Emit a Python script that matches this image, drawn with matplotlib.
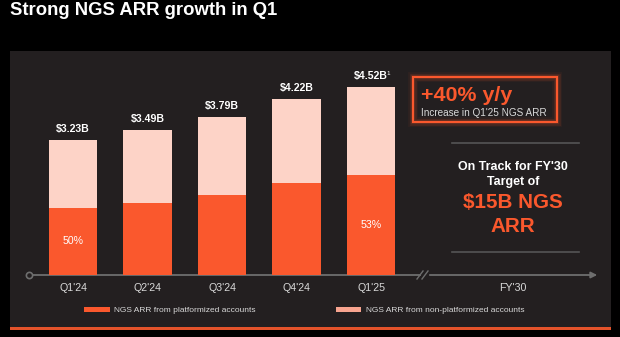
import matplotlib.pyplot as plt
from matplotlib.patches import Patch, Rectangle

plt.rcParams["font.family"] = ["Liberation Sans", "DejaVu Sans"]

quarters = ["Q1'24", "Q2'24", "Q3'24", "Q4'24", "Q1'25"]
total_arr = [3.23, 3.49, 3.79, 4.22, 4.52]          # $B
platformized_arr = [1.62, 1.73, 1.92, 2.21, 2.40]   # $B
footnotes = ["", "", "", "", "1"]
show_share = [True, False, False, False, True]
target_label = "FY'30"
target_arr = 15   # $B
yoy_growth = 40   # %

ORANGE = "#FA582D"
PINK = "#FDD3C7"
SALMON = "#F8A48F"
PANEL = "#231F20"
AXIS = "#6E6E6E"
LIGHT = "#D9D9D9"

W, H = 620, 337
fig = plt.figure(figsize=(W / 100, H / 100), dpi=100, facecolor="black")

# backdrop axes in pixel units, origin top-left
bg = fig.add_axes([0, 0, 1, 1])
bg.set_xlim(0, W)
bg.set_ylim(H, 0)
bg.axis("off")

bg.add_patch(Rectangle((10, 51), 601, 276, facecolor=PANEL, edgecolor="none"))
bg.add_patch(Rectangle((10, 327), 601, 3, facecolor="#E4532B", edgecolor="none"))
bg.text(10, 15, "Strong NGS ARR growth in Q1", color="white", fontsize=13.3,
        fontweight="bold", ha="left", va="baseline")

# timeline with break before the target year
base_y = 275
bg.plot([29, 421], [base_y, base_y], color=AXIS, lw=1.3, solid_capstyle="butt")
bg.annotate("", xy=(600, base_y), xytext=(427, base_y),
            arrowprops=dict(arrowstyle="-|>", color=AXIS, lw=1.3, mutation_scale=9))
bg.plot([417, 423], [279, 271], color=AXIS, lw=1.0)
bg.plot([422, 428], [279, 271], color=AXIS, lw=1.0)
bg.plot(29, base_y, "o", mfc=PANEL, mec=AXIS, ms=4.5, mew=1.2)

# growth callout box with soft glow
for lw, a in [(7, 0.06), (5, 0.10), (3.2, 0.16)]:
    bg.add_patch(Rectangle((413, 77), 144, 45, fill=False, edgecolor=ORANGE,
                           lw=lw, alpha=a))
bg.add_patch(Rectangle((413, 77), 144, 45, fill=False, edgecolor=ORANGE, lw=1.5))
bg.text(421, 101, f"+{yoy_growth}% y/y", color=ORANGE, fontsize=15.4,
        fontweight="bold", ha="left", va="baseline")
bg.text(421, 116, "Increase in Q1'25 NGS ARR", color=LIGHT, fontsize=7.2,
        ha="left", va="baseline")

# target panel
bg.plot([452, 579], [143, 143], color="#555555", lw=1.2)
bg.plot([452, 579], [252, 252], color="#555555", lw=1.2)
bg.text(513, 170, f"On Track for {target_label}", color="white", fontsize=8.9,
        fontweight="bold", ha="center", va="baseline")
bg.text(513, 185, "Target of", color="white", fontsize=8.9,
        fontweight="bold", ha="center", va="baseline")
bg.text(513, 208, f"${target_arr}B NGS", color=ORANGE, fontsize=14.9,
        fontweight="bold", ha="center", va="baseline")
bg.text(513, 232, "ARR", color=ORANGE, fontsize=14.9,
        fontweight="bold", ha="center", va="baseline")

# stacked bars: 74.5 px per category, 41.65 px per $B
px_cat, px_b = 74.5, 41.65
ax = fig.add_axes([10 / W, (H - base_y) / H, 601 / W, (base_y - 51) / H])
ax.set_xlim((10 - 73) / px_cat, (611 - 73) / px_cat)
ax.set_ylim(0, (base_y - 51) / px_b)
ax.patch.set_alpha(0)
for s in ax.spines.values():
    s.set_visible(False)
ax.set_yticks([])

x = list(range(len(quarters)))
non_platformized = [t - p for t, p in zip(total_arr, platformized_arr)]
ax.bar(x, platformized_arr, width=0.645, color=ORANGE, edgecolor="none")
ax.bar(x, non_platformized, width=0.645, bottom=platformized_arr, color=PINK,
       edgecolor="none")

for i, (t, p) in enumerate(zip(total_arr, platformized_arr)):
    lab = ax.annotate(f"${t:.2f}B", xy=(i, t), xytext=(0, 5.8),
                      textcoords="offset points", ha="center", va="baseline",
                      color="white", fontsize=7.6, fontweight="bold")
    if footnotes[i]:
        ax.annotate(footnotes[i], xy=(1, 0.95), xycoords=lab, xytext=(-0.8, 0),
                    textcoords="offset points", ha="left", va="top",
                    color="white", fontsize=4.5)
    if show_share[i]:
        ax.text(i, p / 2, f"{round(100 * p / t)}%", ha="center", va="center",
                color="white", fontsize=7.6)

ax.set_xticks(x + [5.9], quarters + [target_label])
ax.tick_params(axis="x", length=0, pad=6, labelsize=7.7, labelcolor=LIGHT)

handles = [Patch(facecolor=ORANGE, edgecolor="none"),
           Patch(facecolor=SALMON, edgecolor="none")]
fig.legend(handles, ["NGS ARR from platformized accounts",
                     "NGS ARR from non-platformized accounts"],
           loc="center left", bbox_to_anchor=(84 / W, 1 - 310.5 / H), ncol=2,
           frameon=False, fontsize=6, labelcolor=LIGHT, borderpad=0,
           borderaxespad=0, handlelength=3.1, handleheight=0.66,
           handletextpad=0.5, columnspacing=9.6)

fig.savefig("out.png", dpi=100, facecolor="black")
